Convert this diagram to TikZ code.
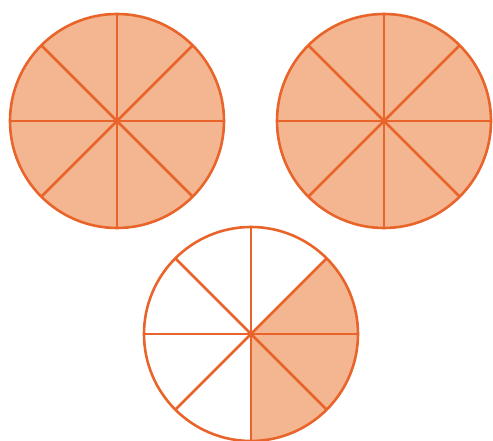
\documentclass[tikz,border=0pt]{standalone}
\usepackage{tikz}

\definecolor{rind}{RGB}{233,100,42}
\definecolor{flesh}{RGB}{244,182,145}

\begin{document}
\begin{tikzpicture}[x=1pt,y=1pt,
      pie/.style={draw=rind,line width=2.6pt,circle,inner sep=0pt,outer sep=0pt,minimum size=214pt},
      full/.style={pie,fill=flesh},
      slice/.style={fill=flesh},
      spoke/.style={rind,line width=2.6pt}]
    \useasboundingbox (0,0) rectangle (493,441);
    % two whole pies on top
    \node[full] (left) at (117,320) {};
    \node[full] (right) at (384,320) {};
    % three eighths of the lower pie, filled before its rim
    \coordinate (mid) at (251,107);
    \fill[slice] (mid) -- ++(-90:107) arc[start angle=-90,end angle=45,radius=107] -- cycle;
    \node[pie] (lower) at (mid) {};
    \foreach \p in {left,right,lower}{
      \foreach \a/\b in {0/180,45/225,90/270,135/315}{
        \draw[spoke] (\p.\a) -- (\p.\b);}
    }
  \end{tikzpicture}
\end{document}
